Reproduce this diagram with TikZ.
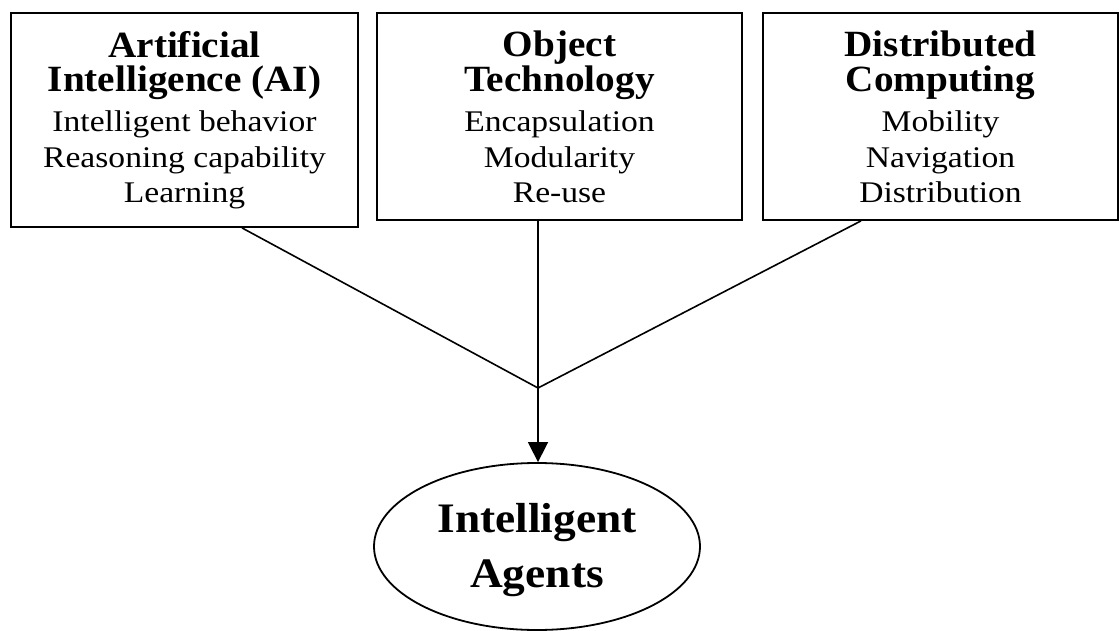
\documentclass[tikz,border=0pt]{standalone}
\usepackage{fontspec}
\setmainfont{Liberation Serif}
\newfontfamily\headfont[FakeStretch=1.06]{Liberation Serif}
\newfontfamily\itemfont[FakeStretch=1.12]{Liberation Serif}
\newfontfamily\goalfont[FakeStretch=1.08]{Liberation Serif}
\usetikzlibrary{shapes.geometric,arrows.meta}
\begin{document}
\begin{tikzpicture}[x=1pt,y=-1pt,
  box/.style={draw, line width=1.8pt, rectangle, inner sep=0pt},
  head/.style={anchor=north, inner sep=0pt, align=center,
               font=\headfont\fontsize{37}{34.5}\selectfont\bfseries},
  item/.style={anchor=north, inner sep=0pt, align=center,
               font=\itemfont\fontsize{30}{35.5}\selectfont},
  goal/.style={anchor=north, inner sep=0pt, align=center,
               font=\goalfont\fontsize{42}{55}\selectfont\bfseries},
  link/.style={line width=1.6pt},
]
\useasboundingbox (0,0) rectangle (1119,631);

% the three source areas
\node[box, minimum width=347pt, minimum height=214pt] (ai) at (184.5,120) {};
\node[box, minimum width=365pt, minimum height=207pt] (ot) at (559.5,116.5) {};
\node[box, minimum width=355pt, minimum height=207pt] (dc) at (940.5,116.5) {};

\node[head] (aihead) at (184.5,31) {Artificial\\Intelligence (AI)};
\node[item] (aiitems) at (184.5,110.5) {Intelligent behavior\\Reasoning capability\\Learning};

\node[head] (othead) at (559.5,31) {Object\\Technology};
\node[item] (otitems) at (559.5,110.5) {Encapsulation\\Modularity\\Re-use};

\node[head] (dchead) at (940.5,31) {Distributed\\Computing};
\node[item] (dcitems) at (940.5,110.5) {Mobility\\Navigation\\Distribution};

% the result
\node[draw, ellipse, line width=1.8pt, inner sep=0pt,
      minimum width=326pt, minimum height=167pt] (ag) at (537,546.5) {};
\node[goal] (agtext) at (537,503.5) {Intelligent\\Agents};

% connectors meeting in one point
\coordinate (j) at (538,388);
\draw[link] ([xshift=57.5pt]ai.south) -- (j);
\draw[link] (ot.south -| j) -- (j);
\draw[link] ([xshift=-79.5pt]dc.south) -- (j);
\draw[link, -{Triangle[width=20pt,length=20pt]}] (j) -- (j |- ag.north);
\end{tikzpicture}
\end{document}
